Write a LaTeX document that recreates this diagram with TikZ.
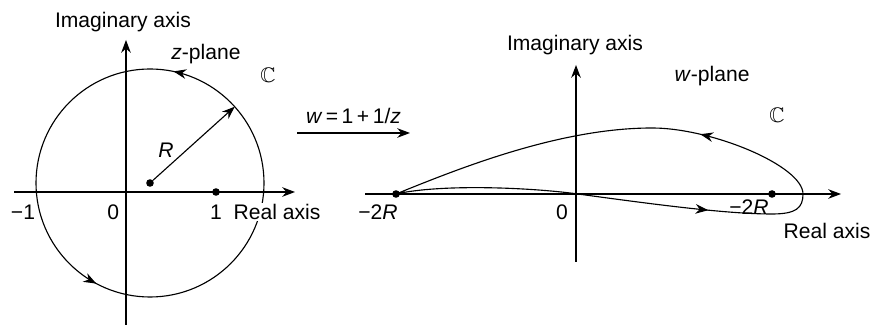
\documentclass[tikz,border=0pt]{standalone}
\usepackage{amssymb}
\usepackage{fontspec}
\setmainfont{Liberation Sans}
\usetikzlibrary{arrows.meta,decorations.markings}
\begin{document}
\begin{tikzpicture}[
  font=\fontsize{15}{18}\selectfont,
  ln/.style={line width=0.8pt},
  ax/.style={line width=0.8pt, -{Stealth[length=3.2mm,width=2.4mm]}},
  dot/.style={circle, fill, inner sep=0pt, minimum size=1.9mm},
  lbl/.style={inner sep=1pt}
]
\useasboundingbox (0,0) rectangle (21.8,8.15);
\coordinate (zxl) at (0.35,3.35);
\coordinate (zxr) at (7.375,3.35);
\coordinate (zyb) at (3.15,0.03);
\coordinate (zyt) at (3.15,7.15);
\coordinate (zc)  at (3.75,3.575);
\path (zc) ++(42:2.85) coordinate (zrad);
\draw[ax] (zxl) -- (zxr);
\draw[ax] (zyb) -- (zyt);
\draw[ln, decoration={markings,
    mark=at position 0.217 with {\arrow{Stealth[length=3.2mm,width=2.4mm]}},
    mark=at position 0.672 with {\arrow{Stealth[length=3.2mm,width=2.4mm]}}},
    postaction=decorate] (zc) circle[radius=2.85];
\node[dot] (zo) at (zc) {};
\node[dot] (zone) at (5.4,3.35) {};
\draw[ax] (zo) -- (zrad);
\node[lbl] (zim) at (3.075,7.6)  {Imaginary axis};
\node[lbl] (zpl) at (5.15,6.8)   {\textit{z}-plane};
\node[lbl] (zC)  at (6.7,6.275)  {$\mathbb{C}$};
\node[lbl] (zm1) at (0.575,2.85) {−1};
\node[lbl] (z0)  at (2.83,2.85)  {0};
\node[lbl] (z1)  at (5.4,2.85)   {1};
\node[lbl] (zR)  at (4.15,4.4)   {\textit{R}};
\node[lbl, fill=white] (zre) at (6.925,2.85) {Real axis};

\coordinate (ml) at (7.425,4.825);
\coordinate (mr) at (10.25,4.825);
\draw[ax] (ml) -- (mr) node[midway, above=3pt] (map) {\textit{w}\,=\,1\,+\,1/\textit{z}};

\coordinate (wxl) at (9.125,3.3);
\coordinate (wxr) at (21.025,3.3);
\coordinate (wyb) at (14.4,1.6);
\coordinate (wyt) at (14.4,6.525);
\draw[ax] (wxl) -- (wxr);
\draw[ax] (wyb) -- (wyt);
\node[dot] (wa) at (9.9,3.3) {};
\node[dot] (wb) at (19.3,3.3) {};
\draw[ln, decoration={markings,
    mark=at position 7.85cm with {\arrow{Stealth[length=3.2mm,width=2.4mm]}},
    mark=at position 13.6cm with {\arrow{Stealth[length=3.2mm,width=2.4mm]}}},
    postaction=decorate]
  (wa.center) .. controls (11.0,3.55) and (13.2,3.47) .. (14.45,3.3)
  .. controls (16.5,3.02) and (18.2,2.8) .. (19.3,2.8)
  .. controls (19.9,2.8) and (20.075,2.95) .. (20.075,3.3)
  .. controls (20.075,4.0) and (17.8,4.95) .. (16.3,4.95)
  .. controls (14.0,4.95) and (11.5,3.95) .. (wa.center);
\node[lbl] (wim) at (14.375,7.025) {Imaginary axis};
\node[lbl] (wpl) at (17.8,6.25)    {\textit{w}-plane};
\node[lbl] (wC)  at (19.425,5.275) {$\mathbb{C}$};
\node[lbl] (wm)  at (9.45,2.85)    {−2\textit{R}};
\node[lbl] (w0)  at (14.05,2.85)   {0};
\node[lbl] (wp)  at (18.725,2.975) {−2\textit{R}};
\node[lbl] (wre) at (20.675,2.375) {Real axis};
\end{tikzpicture}
\end{document}
